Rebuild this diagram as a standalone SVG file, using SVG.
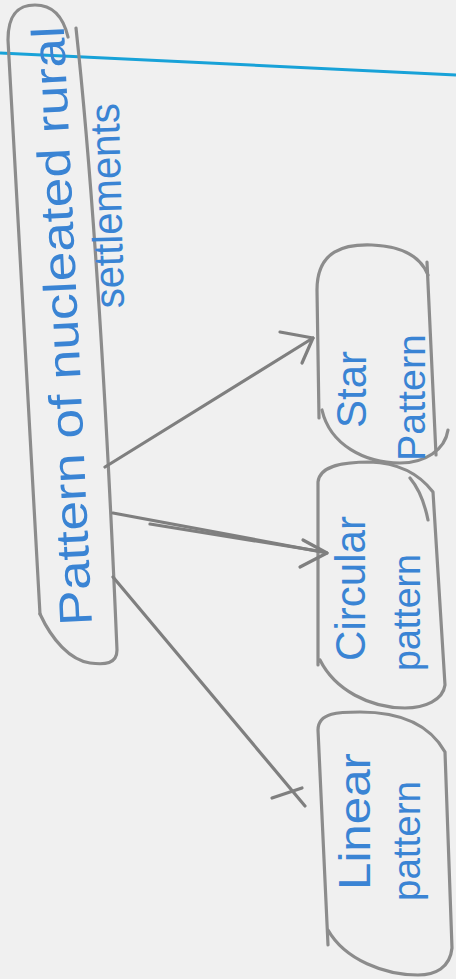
<svg xmlns="http://www.w3.org/2000/svg" width="456" height="979" viewBox="0 0 456 979">
<style>
.pencil{fill:none;stroke:#8c8c8c;stroke-width:3.2;stroke-linecap:round;stroke-linejoin:round}
.conn{fill:none;stroke:#7f7f7f;stroke-width:3.2;stroke-linecap:round;stroke-linejoin:round}
.ink{fill:#3a84d4;font-family:"Liberation Sans",Arial,sans-serif}
</style>
<rect width="456" height="979" fill="#f0f0f0"/>
<line x1="0" y1="53" x2="456" y2="75" stroke="#18a2d8" stroke-width="3"/>
<g id="node-main">
<path class="pencil" d="M40,614 L8,40 C8,12 20,5 35,5 C55,5 64,20 68,37"/>
<path class="pencil" d="M76,28 Q100,250 117,650 C117,664 105,665 90,663 C70,660 52,640 40,614"/>
<text class="ink" font-size="46" textLength="600" lengthAdjust="spacingAndGlyphs" transform="translate(92,625) rotate(-92.7)">Pattern of nucleated rural</text>
<text class="ink" font-size="42" textLength="205" lengthAdjust="spacingAndGlyphs" transform="translate(124,308) rotate(-91.5)">settlements</text>
</g>
<g id="node-star">
<path class="pencil" d="M319,418 L317,290 C317,250 345,244 372,245 C400,246 420,255 428,275"/>
<path class="pencil" d="M427,262 L436,455"/>
<path class="pencil" d="M322,410 C330,445 365,463 400,463 C425,463 445,450 448,430"/>
<text class="ink" font-size="42" textLength="77" lengthAdjust="spacingAndGlyphs" transform="translate(366,428) rotate(-90)">Star</text>
<text class="ink" font-size="39" textLength="127" lengthAdjust="spacingAndGlyphs" transform="translate(425,461) rotate(-90)">Pattern</text>
</g>
<g id="node-circular">
<path class="pencil" d="M318,665 L318,482 C320,465 345,462 370,462 C400,463 420,475 433,492 L445,685 C443,700 425,708 405,708 C370,708 335,690 320,660"/>
<path class="pencil" d="M410,478 C420,490 425,505 428,520"/>
<text class="ink" font-size="42" textLength="145" lengthAdjust="spacingAndGlyphs" transform="translate(365,661) rotate(-90)">Circular</text>
<text class="ink" font-size="38" textLength="117" lengthAdjust="spacingAndGlyphs" transform="translate(420,671) rotate(-90)">pattern</text>
</g>
<g id="node-linear">
<path class="pencil" d="M328,945 L318,730 C318,712 340,712 360,712 C400,712 430,725 445,752 L452,948 C450,968 435,975 418,975 C385,975 345,960 328,930"/>
<text class="ink" font-size="44" textLength="137" lengthAdjust="spacingAndGlyphs" transform="translate(370,890) rotate(-90)">Linear</text>
<text class="ink" font-size="38" textLength="120" lengthAdjust="spacingAndGlyphs" transform="translate(420,901) rotate(-90)">pattern</text>
</g>
<g id="connectors">
<path class="conn" d="M105,467 L313,338"/>
<path class="conn" d="M280,332 L313,338 L302,363"/>
<path class="conn" d="M113,513 L327,553"/>
<path class="conn" d="M150,524 L318,551" stroke-width="4.5"/>
<path class="conn" d="M303,540 L327,553 L300,567"/>
<path class="conn" d="M113,577 L305,806"/>
<path class="conn" d="M272,798 L302,788"/>
</g>
</svg>
